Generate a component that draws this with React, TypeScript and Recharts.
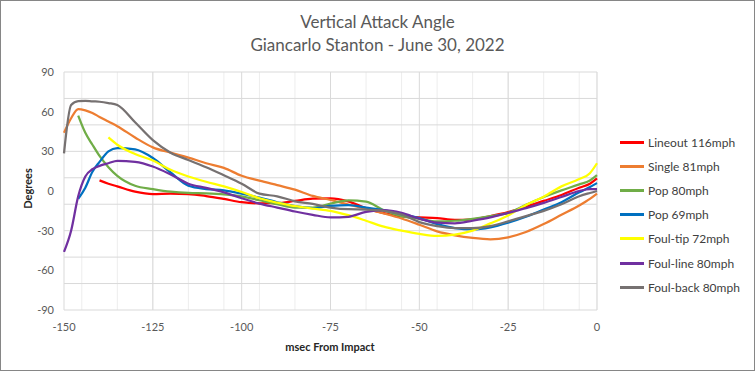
import { LineChart, Line, XAxis, YAxis, CartesianGrid } from "recharts";

// msec from impact, shared by every swing
const TIMES = [
  -150, -148, -146, -144, -142, -140, -137.5, -135, -130, -125, -120, -115,
  -110, -105, -100, -95, -90, -85, -80, -75, -70, -65, -60, -55, -50, -45, -40,
  -35, -30, -25, -20, -15, -10, -5, -2, 0,
];

// vertical attack angle (degrees) per swing, aligned to TIMES
const lineout116 = [
  null, null, null, null, null, 8, 5.5, 3.5, -0.5, -2.3, -2, -2.3, -3.8, -6,
  -8.5, -9.3, -9.2, -7.5, -5.8, -5.5, -7.8, -13, -16.8, -19.2, -19.9, -20.5,
  -21.8, -21.4, -19, -16, -12, -7.5, -3, 2.5, 5.5, 9.5,
];
const single81 = [
  44, 55, 62, 61, 59, 56, 52.5, 49, 40.5, 33, 29, 25.3, 21, 17.5, 11.5, 7.8,
  4.4, 1, -3.7, -6.8, -10.2, -13.5, -17, -20.8, -25.5, -30.5, -33.5, -35.5,
  -36.5, -35, -31, -25, -18, -11, -6, -2,
];
const pop80 = [
  null, null, 57, 44, 35, 26.5, 18, 11.5, 4, 1.5, -0.5, -1.5, -1.8, -2.5, -4,
  -7, -10, -12.5, -12.5, -9.5, -7, -8, -14.5, -19, -21, -23, -22.5, -21, -19,
  -16.5, -10.5, -4.5, 0.5, 5, 8, 12,
];
const pop69 = [
  null, null, -6, 2.5, 14.5, 22, 30, 32.5, 31.5, 25, 14, 4, 1.5, 0.5, -2, -5,
  -8.5, -11.5, -13, -11.3, -10.6, -12.5, -14.5, -17.5, -20.5, -25, -28, -29,
  -27.5, -24, -19.5, -14, -8.5, -1, 3, 6,
];
const foulTip72 = [
  null, null, null, null, null, null, 40.5, 35, 28, 23, 16, 11, 7, 3.5, -0.8,
  -5.5, -8.8, -11.5, -13.3, -15, -18.3, -22.5, -27, -30, -32.5, -34, -33, -30,
  -24.5, -18.5, -10.5, -4.3, 3.5, 9, 13.5, 21,
];
const foulLine80 = [
  -46, -30, -4, 11, 16.5, 19, 21, 22.8, 22, 18.5, 12.5, 5.5, 2.3, -1, -5.5,
  -9.5, -12.5, -15.5, -18, -20, -19.5, -15.8, -14.5, -16.5, -21, -24, -24.5,
  -22.5, -20, -16.5, -13, -9, -4.5, 0, 1.5, 1.5,
];
const foulBack80 = [
  28.5, 65, 68, 68.2, 67.8, 67.5, 66.5, 65, 52, 38.5, 29, 23.4, 18, 11.9, 5.5,
  -2, -4, -7.8, -9.8, -12.5, -13.8, -14, -15, -17.8, -23.5, -26.5, -28, -28,
  -26.5, -23, -19, -15, -10, -4, -1.5, 0,
];

const X_TICKS = [-150, -125, -100, -75, -50, -25, 0];
const Y_TICKS = [-90, -60, -30, 0, 30, 60, 90];

const SERIES = [
  { key: "lineout", name: "Lineout 116mph", color: "#FF0000", values: lineout116 },
  { key: "single", name: "Single 81mph", color: "#ED7D31", values: single81 },
  { key: "pop80", name: "Pop 80mph", color: "#70AD47", values: pop80 },
  { key: "pop69", name: "Pop 69mph", color: "#0070C0", values: pop69 },
  { key: "foultip", name: "Foul-tip 72mph", color: "#FFFF00", values: foulTip72 },
  { key: "foulline", name: "Foul-line 80mph", color: "#7030A0", values: foulLine80 },
  { key: "foulback", name: "Foul-back 80mph", color: "#767171", values: foulBack80 },
];

const data = TIMES.map((t, i) => {
  const row: Record<string, number | null> = { t };
  SERIES.forEach((s) => {
    row[s.key] = s.values[i];
  });
  return row;
});

const minorX = Array.from({ length: 31 }, (_, i) => -150 + i * 5);
const minorY = Array.from({ length: 19 }, (_, i) => -90 + i * 10);

const FONT = "Lato, 'Open Sans', sans-serif";

export default function App() {
  return (
    <div
      style={{
        position: "relative",
        width: 755,
        height: 371,
        background: "#fff",
        fontFamily: FONT,
      }}
    >
      <style>{"body{margin:0}"}</style>
      <LineChart
        width={755}
        height={371}
        data={data}
        margin={{ top: 72, right: 158, bottom: 31, left: 24 }}
      >
        <CartesianGrid
          stroke="#ededed"
          horizontal={false}
          verticalValues={minorX}
        />
        <CartesianGrid
          stroke="#d9d9d9"
          horizontalValues={minorY}
          verticalValues={X_TICKS}
        />
        <XAxis
          dataKey="t"
          type="number"
          domain={[-150, 0]}
          ticks={X_TICKS}
          axisLine={false}
          tickLine={false}
          tickMargin={7}
          height={30}
          tick={{ fontSize: 11, fill: "#595959", fontFamily: FONT }}
        />
        <YAxis
          type="number"
          domain={[-90, 90]}
          ticks={Y_TICKS}
          axisLine={false}
          tickLine={false}
          tickMargin={4}
          width={40}
          tick={{ fontSize: 11, fill: "#595959", fontFamily: FONT }}
        />
        {SERIES.map((s) => (
          <Line
            key={s.key}
            dataKey={s.key}
            name={s.name}
            stroke={s.color}
            strokeWidth={2.25}
            type="monotone"
            dot={false}
            activeDot={false}
            isAnimationActive={false}
          />
        ))}
      </LineChart>

      <div
        style={{
          position: "absolute",
          top: 10,
          left: 0,
          width: 755,
          textAlign: "center",
          color: "#595959",
          fontSize: 17,
          lineHeight: "23px",
        }}
      >
        <div>Vertical Attack Angle</div>
        <div>Giancarlo Stanton - June 30, 2022</div>
      </div>

      <div
        style={{
          position: "absolute",
          left: 27 - 40,
          top: 182,
          width: 80,
          textAlign: "center",
          transform: "rotate(-90deg)",
          fontSize: 11,
          fontWeight: "bold",
          color: "#262626",
        }}
      >
        Degrees
      </div>
      <div
        style={{
          position: "absolute",
          left: 230,
          top: 340,
          width: 200,
          textAlign: "center",
          fontSize: 11,
          fontWeight: "bold",
          color: "#262626",
        }}
      >
        msec From Impact
      </div>

      {SERIES.map((s, i) => (
        <div
          key={s.key}
          style={{
            position: "absolute",
            left: 620,
            top: 134 + i * 24.2,
            height: 16,
            display: "flex",
            alignItems: "center",
            fontSize: 12,
            color: "#404040",
          }}
        >
          <span
            style={{
              display: "inline-block",
              width: 24,
              height: 3,
              background: s.color,
              marginRight: 4,
            }}
          />
          {s.name}
        </div>
      ))}

      <div
        style={{
          position: "absolute",
          inset: 0,
          border: "1px solid #868686",
          pointerEvents: "none",
        }}
      />
    </div>
  );
}
